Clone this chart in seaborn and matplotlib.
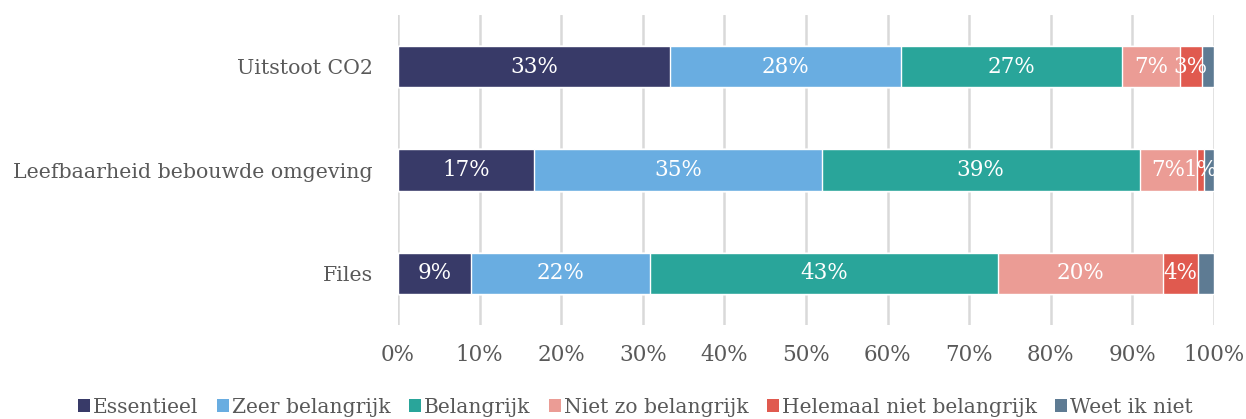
import matplotlib
matplotlib.use("Agg")
import matplotlib.pyplot as plt
from matplotlib.patches import Patch
import numpy as np
import pandas as pd
import seaborn as sns

categories = ["Uitstoot CO2", "Leefbaarheid bebouwde omgeving", "Files"]
series = ["Essentieel", "Zeer belangrijk", "Belangrijk",
          "Niet zo belangrijk", "Helemaal niet belangrijk", "Weet ik niet"]
essentieel = [33.3, 16.7, 9.0]
zeer_belangrijk = [28.4, 35.2, 21.9]
belangrijk = [27.0, 39.0, 42.6]
niet_zo_belangrijk = [7.1, 7.0, 20.3]
helemaal_niet = [2.7, 0.9, 4.2]
weet_ik_niet = [1.5, 1.2, 2.0]
tick_values = list(range(0, 101, 10))

colors = ["#383a68", "#69ade1", "#29a59a", "#eb9c95", "#e05a4f", "#5e7b93"]
values = np.array([essentieel, zeer_belangrijk, belangrijk,
                   niet_zo_belangrijk, helemaal_niet, weet_ik_niet])
cum = values.cumsum(axis=0)

sns.set_style("white")
plt.rcParams["font.family"] = ["DejaVu Serif"]
text_color = "#595959"

fig = plt.figure(figsize=(12.46, 4.19), dpi=100)
ax = fig.add_axes([398 / 1246, 1 - 325 / 419, (1214 - 398) / 1246, 310 / 419])

# stacked bars: draw running totals from the last series backwards
for i in range(len(series) - 1, -1, -1):
    df = pd.DataFrame({"cat": categories, "val": cum[i]})
    sns.barplot(data=df, x="val", y="cat", orient="h", color=colors[i],
                saturation=1, width=0.4, ax=ax, zorder=3)

# value labels (last series unlabelled)
for i in range(len(series) - 1):
    for j in range(len(categories)):
        v = values[i, j]
        x = cum[i, j] - v / 2
        ax.text(x, j, f"{round(v)}%", ha="center", va="center",
                color="white", fontsize=15.5, zorder=5)

ax.set_xlim(0, 100)
ax.set_ylim(2.5, -0.5)
ax.set_xticks(tick_values)
ax.set_xticklabels([f"{t}%" for t in tick_values])
ax.set_xlabel("")
ax.set_ylabel("")
ax.grid(axis="x", color="#d9d9d9", linewidth=1.8, zorder=0)
for s in ax.spines.values():
    s.set_visible(False)
ax.tick_params(axis="x", length=0, pad=14, labelsize=15.5, labelcolor=text_color)
ax.tick_params(axis="y", length=0, pad=18, labelsize=14.8, labelcolor=text_color)

handles = [Patch(facecolor=c, edgecolor="none") for c in colors]
fig.legend(handles, series, loc="center", bbox_to_anchor=(0.51, 1 - 407 / 419),
           ncol=6, frameon=False, fontsize=14.6, labelcolor=text_color,
           handlelength=0.6, handleheight=0.6, handletextpad=0.15,
           columnspacing=0.9)

fig.savefig("out.png", dpi=100)
